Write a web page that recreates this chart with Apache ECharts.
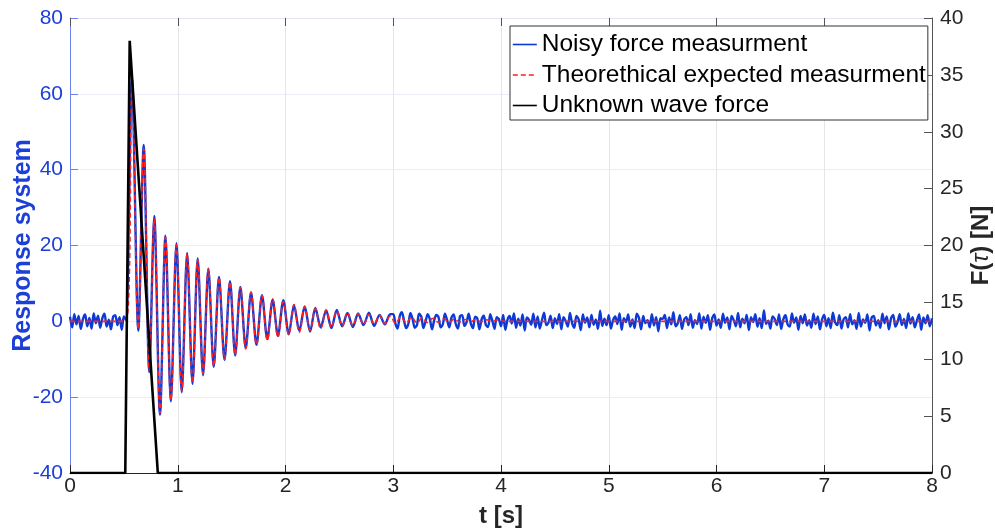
<!DOCTYPE html>
<html><head><meta charset="utf-8">
<script src="https://cdn.jsdelivr.net/npm/echarts@6/dist/echarts.min.js"></script>
<style>html,body{margin:0;padding:0;background:#fff}#c{width:995px;height:532px}</style>
</head><body><div id="c"></div>
<script>
// ---- data ----
const seriesNames = ['Noisy force measurment', 'Theorethical expected measurment', 'Unknown wave force'];

// noisy measurement: sampled noise before the impact (t = 0 .. 0.50, step 0.02)
const noiseStep = 0.02;
const noiseEarlyStart = 0;
const noiseEarly = [1.2,-1.6,1.9,-0.8,1.4,-2.0,0.6,1.8,-1.3,0.9,-1.9,2.1,-0.5,1.5,-1.7,0.8,2.0,-1.4,0.4,-2.1,1.2,1.6,-1.0,1.1,-2.2,1.3];

// noisy measurement: extrema of the decaying oscillation
const noisyOscT = [0.52,0.575,0.634,0.684,0.736,0.782,0.835,0.886,0.936,0.988,1.037,1.087,1.137,1.185,1.235,1.284,1.334,1.383,1.434,1.485,1.533,1.581,1.631,1.680,1.731,1.782,1.831,1.881,1.930,1.980,2.030,2.079,2.128,2.178,2.228,2.277,2.327,2.377,2.426,2.476,2.526,2.575,2.625,2.674,2.724,2.774,2.823,2.873,2.922,2.972];
const noisyOscV = [0.4,64.1,-2.5,46.5,-13.4,27.8,-24.6,22.6,-21.1,20.6,-18.7,18.0,-16.5,16.6,-14.2,13.9,-12.0,11.7,-10.2,10.6,-9.0,9.1,-7.1,7.6,-6.2,6.9,-4.7,5.7,-3.8,5.6,-3.4,4.2,-2.5,3.9,-2.7,3.5,-1.6,2.9,-1.8,3.0,-1.3,2.2,-1.5,2.1,-1.0,2.3,-1.2,1.7,-0.8,1.9];

// noisy measurement: sampled noise after the oscillation (t = 3.00 .. 8.00, step 0.02)
const noiseLateStart = 3.0;
const noiseLate = [
1.9,-0.6,-1.9,1.3,2.4,0.2,-1.8,-0.7,2.2,0.6,-1.7,-1.0,2.0,1.3,-1.8,0.0,1.9,0.5,-2.1,0.3,1.7,1.1,-1.6,-0.8,2.0,
0.3,-1.6,1.0,1.8,-0.7,-1.9,1.4,1.6,-1.2,-0.3,2.0,-0.6,-1.8,1.2,0.8,-2.1,0.5,1.5,-1.0,-1.5,1.9,0.1,-2.0,1.1,0.6,
-1.3,1.7,-2.2,0.4,1.4,-0.6,2.1,-1.7,0.7,-1.1,1.8,-2.4,1.0,0.4,-0.9,2.0,-1.6,1.3,-1.9,0.3,2.3,-1.0,-0.4,1.5,-1.8,
0.8,-0.7,1.9,-2.1,1.1,0.1,-1.4,2.2,-0.5,-1.7,1.4,0.6,-2.3,1.8,-0.4,1.0,-1.6,1.7,-0.9,0.5,-2.0,2.8,-1.2,0.7,-1.0,
1.6,-1.9,0.3,1.3,-0.7,2.1,-2.2,0.8,-0.2,1.8,-1.4,0.5,-1.8,2.0,0.9,-2.1,1.4,-0.5,0.3,-1.6,1.9,-1.1,1.1,-2.6,0.8,
0.6,1.7,-1.8,1.0,-0.8,2.4,-1.3,-0.5,1.6,-2.0,0.5,1.1,-1.0,1.9,-1.7,0.3,-0.7,2.1,-1.9,1.2,-0.4,1.6,-2.2,0.8,1.8,
-1.1,0.5,-1.7,2.0,-0.4,1.0,-2.1,1.4,0.3,-1.3,2.2,-1.6,0.7,-0.5,1.7,-2.3,1.1,-0.2,1.9,-1.4,0.8,-1.8,2.9,-0.7,0.2,
-1.9,1.3,0.6,-1.0,1.8,-2.0,0.5,1.6,-0.8,-1.4,2.1,-0.4,1.0,-2.2,1.4,-0.5,1.8,-1.1,0.3,-1.7,2.0,-0.7,1.3,-2.1,0.5,
1.7,-1.3,0.8,-1.8,2.3,-0.2,-1.0,1.6,-1.9,0.6,1.1,-1.6,1.9,-0.8,0.3,-2.0,2.2,-1.4,0.5,-0.4,1.8,-2.4,1.0,1.4,-1.1,
0.3,-1.7,2.0,-0.5,1.3,-2.1,0.8,1.7,-1.4,-0.3,1.9,-1.0,0.6,-1.8,2.1,-0.6,1.1,-1.6,0.2,1.8,-2.2,1.0,-0.5,1.6,-1.3,
0.8];

// theoretical expected measurement (extrema of the damped response)
const theoT = [0,0.52,0.575,0.634,0.684,0.736,0.782,0.835,0.886,0.936,0.988,1.037,1.087,1.137,1.185,1.235,1.284,1.334,1.383,1.434,1.485,1.533,1.581,1.631,1.680,1.731,1.782,1.831,1.881,1.930,1.980,2.030,2.079,2.128,2.178,2.228,2.277,2.327,2.377,2.426,2.476,2.526,2.575,2.625,2.674,2.724,2.774,2.823,2.873,2.922,2.972,3.022,3.071,3.121,3.170,3.220,3.270,3.319,3.369,3.418,3.468,3.518,3.567,3.617,3.666,3.716,3.766,3.815,3.865,3.914,3.964,4.05,8.0];
const theoV = [0,0,62,-2,45.5,-13,27,-24.2,22.2,-20.8,20.2,-18.3,17.8,-16.2,16.2,-13.8,13.8,-11.8,11.6,-10.0,10.4,-8.8,9.0,-7.2,7.7,-6.2,6.8,-5.0,5.9,-4.2,5.2,-3.5,4.4,-2.9,3.9,-2.4,3.4,-1.9,3.0,-1.6,2.7,-1.3,2.3,-1.1,2.0,-0.9,1.8,-0.75,1.6,-0.6,1.4,-0.5,1.2,-0.4,1.05,-0.35,0.9,-0.3,0.8,-0.25,0.7,-0.2,0.6,-0.18,0.5,-0.15,0.45,-0.12,0.4,-0.1,0.35,0,0];

// unknown wave force (right axis)
const forceT = [0, 0.513, 0.554, 0.815, 8];
const forceV = [0, 0, 38, 0, 0];

// axes
const xRange = [0, 8], xStep = 1;
const yLeftRange = [-40, 80], yLeftStep = 20;
const yRightRange = [0, 40], yRightStep = 5;

// ---- build ----
const noisyData = []
  .concat(noiseEarly.map((v, i) => [+(noiseEarlyStart + i * noiseStep).toFixed(3), v]))
  .concat(noisyOscT.map((t, i) => [t, noisyOscV[i]]))
  .concat(noiseLate.map((v, i) => [+(noiseLateStart + i * noiseStep).toFixed(3), v]));
const theoData = theoT.map((t, i) => [t, theoV[i]]);
const forceData = forceT.map((t, i) => [t, forceV[i]]);

const FONT = 'Liberation Sans, Arial, Helvetica, sans-serif';
const BLUE_TXT = '#1c3fd8';
const C_NOISY = '#0d3ad6', C_THEO = '#ff2020', C_FORCE = '#000000';

const chart = echarts.init(document.getElementById('c'), null, {renderer: 'canvas'});
chart.setOption({
  animation: false,
  backgroundColor: '#fff',
  textStyle: {fontFamily: FONT},
  grid: {left: 70, right: 63, top: 18, bottom: 59, containLabel: false, outerBoundsMode: 'none'},
  legend: {
    orient: 'vertical', left: 510, top: 26,
    itemWidth: 24, itemHeight: 12, itemGap: 5.5, itemTextGap: 2,
    padding: [6, 2, 2, 2],
    backgroundColor: '#fff', borderColor: '#333', borderWidth: 1, borderRadius: 0,
    itemStyle: {opacity: 0},
    lineStyle: {width: 1.6},
    textStyle: {fontSize: 24.5, color: '#000', fontFamily: FONT, lineHeight: 23.5},
    data: seriesNames
  },
  xAxis: [{
    type: 'value', min: xRange[0], max: xRange[1], interval: xStep, position: 'bottom',
    axisLine: {show: true, onZero: false, lineStyle: {color: '#262626', width: 1}},
    axisTick: {show: true, inside: true, length: 8, lineStyle: {color: '#262626'}},
    axisLabel: {fontSize: 21, color: '#262626', margin: 3, fontFamily: FONT},
    splitLine: {show: true, lineStyle: {color: '#e6e6e6', width: 1}},
    name: 't [s]', nameLocation: 'middle', nameGap: 31, nameMoveOverlap: false,
    nameTextStyle: {fontSize: 24, fontWeight: 'bold', color: '#262626', fontFamily: FONT}
  }, {
    type: 'value', min: xRange[0], max: xRange[1], interval: xStep, position: 'top',
    axisLine: {show: true, onZero: false, lineStyle: {color: '#e4e4f4', width: 1}},
    axisTick: {show: true, inside: true, length: 8, lineStyle: {color: '#555'}},
    axisLabel: {show: false}, splitLine: {show: false}
  }],
  yAxis: [{
    type: 'value', min: yLeftRange[0], max: yLeftRange[1], interval: yLeftStep, position: 'left',
    axisLine: {show: true, onZero: false, lineStyle: {color: '#6f84ee', width: 1}},
    axisTick: {show: true, inside: true, length: 8, lineStyle: {color: '#6f84ee'}},
    axisLabel: {fontSize: 21, color: BLUE_TXT, margin: 7, fontFamily: FONT},
    splitLine: {show: true, lineStyle: {color: '#ececfb', width: 1}},
    name: 'Response system', nameLocation: 'middle', nameGap: 34, nameRotate: 90, nameMoveOverlap: false,
    nameTextStyle: {fontSize: 25, fontWeight: 'bold', color: BLUE_TXT, fontFamily: FONT}
  }, {
    type: 'value', min: yRightRange[0], max: yRightRange[1], interval: yRightStep, position: 'right',
    axisLine: {show: true, onZero: false, lineStyle: {color: '#555', width: 1}},
    axisTick: {show: true, inside: true, length: 8, lineStyle: {color: '#555'}},
    axisLabel: {fontSize: 21, color: '#262626', margin: 8, fontFamily: FONT},
    splitLine: {show: false},
    name: 'F({t|τ}) [N]', nameLocation: 'middle', nameGap: 37, nameRotate: 90, nameMoveOverlap: false,
    nameTextStyle: {fontSize: 24, fontWeight: 'bold', color: '#262626', fontFamily: FONT,
      rich: {t: {fontSize: 24, fontStyle: 'italic', fontWeight: 'normal', color: '#262626', fontFamily: FONT}}}
  }],
  series: [{
    name: seriesNames[0], type: 'line', xAxisIndex: 0, yAxisIndex: 0,
    data: noisyData, symbol: 'none', smooth: 0.3,
    lineStyle: {color: C_NOISY, width: 2.4}, itemStyle: {color: C_NOISY}, z: 2
  }, {
    name: seriesNames[1], type: 'line', xAxisIndex: 0, yAxisIndex: 0,
    data: theoData, symbol: 'none', smooth: 0.4,
    lineStyle: {color: C_THEO, width: 1.6, type: [5, 3]}, itemStyle: {color: C_THEO}, z: 3
  }, {
    name: seriesNames[2], type: 'line', xAxisIndex: 0, yAxisIndex: 1,
    data: forceData, symbol: 'none',
    lineStyle: {color: C_FORCE, width: 2.6}, itemStyle: {color: C_FORCE}, z: 4
  }]
});
</script>
</body></html>
